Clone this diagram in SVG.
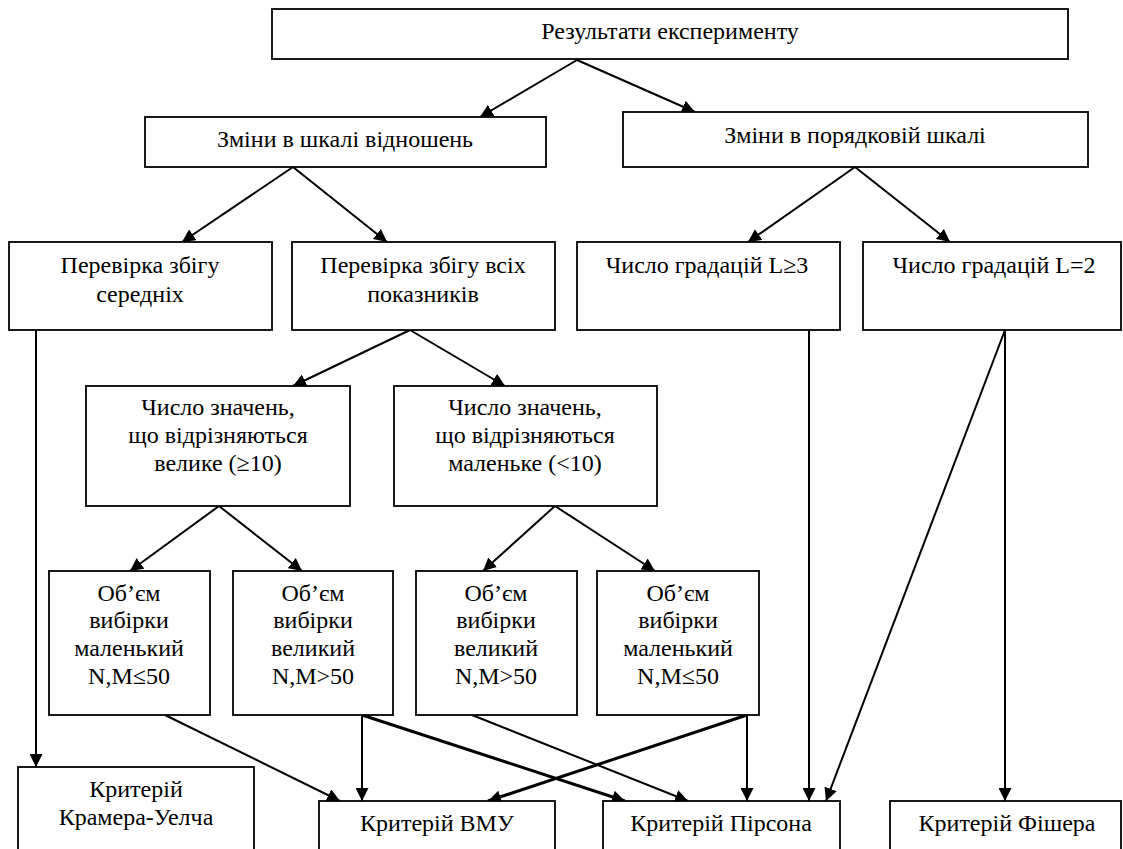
<svg xmlns="http://www.w3.org/2000/svg" width="1123" height="849" viewBox="0 0 1123 849">
<style>
.box{fill:#fff;stroke:#000;stroke-width:1.8}
text{font-family:"Liberation Serif","Times New Roman",serif;font-size:24px;fill:#000;text-anchor:middle}
.c{fill:none;stroke:#000;stroke-width:2;marker-end:url(#ah)}
.ct{fill:none;stroke:#000;stroke-width:3;marker-end:url(#ah)}
</style>
<defs>
<marker id="ah" markerUnits="userSpaceOnUse" markerWidth="14" markerHeight="13" refX="13" refY="6.5" orient="auto" viewBox="0 0 14 13">
<path d="M0,0 L13,6.5 L0,13 z" fill="#000"/>
</marker>
</defs>
<rect width="1123" height="849" fill="#fff"/>
<g id="connectors">
<line class="c" x1="577" y1="60" x2="480" y2="117"/>
<line class="c" x1="577" y1="60" x2="695" y2="112"/>
<line class="c" x1="293" y1="167" x2="182" y2="242"/>
<line class="c" x1="293" y1="167" x2="387" y2="242"/>
<line class="c" x1="855" y1="167" x2="748" y2="242"/>
<line class="c" x1="855" y1="167" x2="950" y2="242"/>
<line class="c" x1="36" y1="330" x2="36" y2="767"/>
<line class="c" x1="410" y1="330" x2="293" y2="386"/>
<line class="c" x1="410" y1="330" x2="505" y2="386"/>
<line class="c" x1="219" y1="506" x2="130" y2="571"/>
<line class="c" x1="219" y1="506" x2="302" y2="571"/>
<line class="c" x1="555" y1="506" x2="483" y2="571"/>
<line class="c" x1="555" y1="506" x2="655" y2="571"/>
<line class="c" x1="165" y1="715" x2="340" y2="801"/>
<line class="c" x1="362" y1="715" x2="362" y2="801"/>
<line class="ct" x1="362" y1="715" x2="625" y2="801"/>
<line class="c" x1="472" y1="715" x2="688" y2="801"/>
<line class="ct" x1="747" y1="715" x2="488" y2="801"/>
<line class="c" x1="747" y1="715" x2="747" y2="801"/>
<line class="c" x1="809" y1="330" x2="809" y2="801"/>
<line class="c" x1="1005" y1="330" x2="826" y2="801"/>
<line class="c" x1="1005" y1="330" x2="1005" y2="801"/>
</g>
<g id="n-results"><rect class="box" x="272" y="9" width="796" height="50"/><text x="670" y="39">Результати експерименту</text></g>
<g id="n-ratio"><rect class="box" x="145" y="117" width="401" height="50"/><text x="345" y="147">Зміни в шкалі відношень</text></g>
<g id="n-ordinal"><rect class="box" x="623" y="112" width="465" height="55"/><text x="855" y="143">Зміни в порядковій шкалі</text></g>
<g id="n-means"><rect class="box" x="9" y="242" width="263" height="88"/><text x="140" y="273">Перевірка збігу</text><text x="140" y="302">середніх</text></g>
<g id="n-all"><rect class="box" x="292" y="242" width="263" height="88"/><text x="423" y="273">Перевірка збігу всіх</text><text x="423" y="302">показників</text></g>
<g id="n-l3"><rect class="box" x="577" y="242" width="263" height="88"/><text x="707" y="273">Число градацій L≥3</text></g>
<g id="n-l2"><rect class="box" x="863" y="242" width="258" height="88"/><text x="994" y="273">Число градацій L=2</text></g>
<g id="n-big"><rect class="box" x="86" y="386" width="264" height="120"/><text x="218" y="415">Число значень,</text><text x="218" y="443">що відрізняються</text><text x="218" y="471">велике (≥10)</text></g>
<g id="n-small"><rect class="box" x="394" y="386" width="263" height="120"/><text x="525" y="415">Число значень,</text><text x="525" y="443">що відрізняються</text><text x="525" y="471">маленьке (&lt;10)</text></g>
<g id="n-s1"><rect class="box" x="49" y="571" width="161" height="144"/><text x="129" y="601">Об’єм</text><text x="129" y="628">вибірки</text><text x="129" y="656">маленький</text><text x="129" y="684">N,M≤50</text></g>
<g id="n-s2"><rect class="box" x="233" y="571" width="160" height="144"/><text x="313" y="601">Об’єм</text><text x="313" y="628">вибірки</text><text x="313" y="656">великий</text><text x="313" y="684">N,M&gt;50</text></g>
<g id="n-s3"><rect class="box" x="416" y="571" width="161" height="144"/><text x="496" y="601">Об’єм</text><text x="496" y="628">вибірки</text><text x="496" y="656">великий</text><text x="496" y="684">N,M&gt;50</text></g>
<g id="n-s4"><rect class="box" x="597" y="571" width="162" height="144"/><text x="678" y="601">Об’єм</text><text x="678" y="628">вибірки</text><text x="678" y="656">маленький</text><text x="678" y="684">N,M≤50</text></g>
<g id="n-kramer"><rect class="box" x="18" y="767" width="236" height="100"/><text x="136" y="797">Критерій</text><text x="136" y="825">Крамера-Уелча</text></g>
<g id="n-vmu"><rect class="box" x="319" y="801" width="236" height="66"/><text x="437" y="831">Критерій ВМУ</text></g>
<g id="n-pearson"><rect class="box" x="603" y="801" width="237" height="66"/><text x="721" y="831">Критерій Пірсона</text></g>
<g id="n-fisher"><rect class="box" x="890" y="801" width="231" height="66"/><text x="1007" y="831">Критерій Фішера</text></g>
</svg>
